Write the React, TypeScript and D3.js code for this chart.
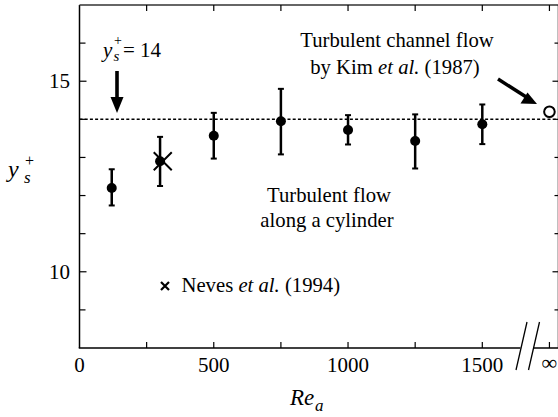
import React from "react";
import * as d3 from "d3";

// ---- data ----
const reValues = [120, 300, 500, 750, 1000, 1250, 1500];
const ysValues = [12.2, 12.9, 13.57, 13.95, 13.72, 13.43, 13.87];
const errLow = [11.74, 12.25, 12.97, 13.08, 13.34, 12.71, 13.35];
const errHigh = [12.69, 13.54, 14.17, 14.8, 14.11, 14.13, 14.39];
const nevesRe = [310];
const nevesYs = [12.9];
const kimYs = 14.2; // at Re = infinity
const refLine = 14;
const xTickValues = [0, 500, 1000, 1500];
const xMinorTicks = [250, 500, 750, 1000, 1250, 1500];
const yTickValues = [10, 15];
const yMinorTicks = [9, 10, 11, 12, 13, 14, 15, 16];
const INF_POS = 1750; // position of the "∞" tick after the axis break

const W = 558;
const H = 417;
const FF = "Liberation Serif";
const NOTE = 20.7;

export default function App() {
  const x = d3.scaleLinear().domain([0, 1500]).range([79.5, 482.3]);
  const y = d3.scaleLinear().domain([8, 17]).range([348, 5]);
  const left = x(0);
  const right = 558.5;
  const top = y(17);
  const bottom = y(8);
  const xInf = x(INF_POS);

  const tick = 6;
  const blk = "#000";

  return (
    <svg width={W} height={H} style={{ position: "absolute", left: 0, top: 0, background: "#fff" }}>
      <rect x={0} y={0} width={W} height={H} fill="#fff" />
      {/* reference dotted line */}
      <line x1={left} x2={right} y1={y(refLine)} y2={y(refLine)} stroke={blk} strokeWidth={1.5} strokeDasharray="3,2.2" />

      {/* axes frame */}
      <line x1={left} x2={left} y1={top} y2={bottom} stroke={blk} strokeWidth={1.5} />
      <line x1={left} x2={right} y1={top} y2={top} stroke="#333" strokeWidth={1.5} />
      <line x1={right} x2={right} y1={top} y2={bottom} stroke={blk} strokeWidth={1.5} />
      <line x1={left - 0.75} x2={520.5} y1={bottom} y2={bottom} stroke={blk} strokeWidth={1.5} />
      <line x1={534} x2={right} y1={bottom} y2={bottom} stroke={blk} strokeWidth={1.5} />
      {/* axis break slashes */}
      <line x1={516} y1={370} x2={527} y2={322} stroke={blk} strokeWidth={1.3} />
      <line x1={528.5} y1={370} x2={539.5} y2={322} stroke={blk} strokeWidth={1.3} />

      {/* x ticks (bottom & top) */}
      {[...xMinorTicks.map((v) => x(v)), xInf].map((px, i) => (
        <g key={"xt" + i}>
          <line x1={px} x2={px} y1={bottom} y2={bottom - tick} stroke={blk} strokeWidth={1.2} />
          <line x1={px} x2={px} y1={top} y2={top + tick} stroke={blk} strokeWidth={1.2} />
        </g>
      ))}
      {/* y ticks (left & right) */}
      {yMinorTicks.map((v) => (
        <g key={"yt" + v}>
          <line x1={left} x2={left + tick + (yTickValues.includes(v) ? 1 : 0)} y1={y(v)} y2={y(v)} stroke={blk} strokeWidth={1.2} />
          <line x1={right} x2={right - 4 - (yTickValues.includes(v) ? 2 : 0)} y1={y(v)} y2={y(v)} stroke={blk} strokeWidth={1.2} />
        </g>
      ))}

      <g fontFamily={FF} fill={blk}>
        {/* tick labels */}
        {xTickValues.map((v) => (
          <text key={"xl" + v} x={x(v)} y={372} textAnchor="middle" fontSize={21}>
            {v}
          </text>
        ))}
        <text x={xInf} y={370} textAnchor="middle" fontSize={22}>∞</text>
        {yTickValues.map((v) => (
          <text key={"yl" + v} x={70} y={y(v) + 7} textAnchor="end" fontSize={21}>
            {v}
          </text>
        ))}

        {/* axis titles */}
        <text x={290} y={405} fontStyle="italic" fontSize={23}>Re</text>
        <text x={315} y={411} fontStyle="italic" fontSize={17}>a</text>

        <text x={8} y={177} fontStyle="italic" fontSize={24}>y</text>
        <text x={24} y={183} fontStyle="italic" fontSize={17}>s</text>
        <text x={25} y={166} fontSize={16}>+</text>

        {/* y_s^+ = 14 annotation */}
        <text x={103} y={57} fontStyle="italic" fontSize={21}>y</text>
        <text x={113.5} y={61} fontStyle="italic" fontSize={15}>s</text>
        <text x={114} y={45} fontSize={14}>+</text>
        <text x={123} y={57} fontSize={21}>= 14</text>

        {/* Kim annotation */}
        <text x={397} y={47} textAnchor="middle" fontSize={NOTE}>Turbulent channel flow</text>
        <text x={395} y={74} textAnchor="middle" fontSize={NOTE}>
          by Kim <tspan fontStyle="italic">et al.</tspan> (1987)
        </text>

        {/* cylinder annotation */}
        <text x={329} y={202} textAnchor="middle" fontSize={NOTE}>Turbulent flow</text>
        <text x={327} y={227} textAnchor="middle" fontSize={NOTE}>along a cylinder</text>

        {/* legend for Neves */}
        <text x={181.5} y={292} fontSize={NOTE}>
          Neves <tspan fontStyle="italic">et al.</tspan> (1994)
        </text>
      </g>

      {/* error bars */}
      {reValues.map((r, i) => (
        <g key={"eb" + i}>
          <line x1={x(r)} x2={x(r)} y1={y(errLow[i])} y2={y(errHigh[i])} stroke={blk} strokeWidth={2.5} />
          <line x1={x(r) - 3} x2={x(r) + 3} y1={y(errLow[i])} y2={y(errLow[i])} stroke={blk} strokeWidth={2} />
          <line x1={x(r) - 3} x2={x(r) + 3} y1={y(errHigh[i])} y2={y(errHigh[i])} stroke={blk} strokeWidth={2} />
          <circle cx={x(r)} cy={y(ysValues[i])} r={5} fill={blk} />
        </g>
      ))}

      {/* Neves et al. cross */}
      {nevesRe.map((r, i) => (
        <path
          key={"nv" + i}
          d={`M${x(r) - 9},${y(nevesYs[i]) - 9}L${x(r) + 9},${y(nevesYs[i]) + 9}M${x(r) - 9},${y(nevesYs[i]) + 9}L${x(r) + 9},${y(nevesYs[i]) - 9}`}
          stroke={blk}
          strokeWidth={2}
          fill="none"
        />
      ))}
      <path d="M161,282L169,290M161,290L169,282" stroke={blk} strokeWidth={2.2} fill="none" />

      {/* Kim et al. open circle at infinity */}
      <circle cx={xInf} cy={y(kimYs)} r={5.3} fill="#fff" stroke={blk} strokeWidth={2} />

      {/* arrows */}
      <line x1={117} x2={117} y1={71} y2={100} stroke={blk} strokeWidth={3.6} />
      <path d="M110.5,97L123.5,97L117,113Z" fill={blk} />
      <line x1={498} y1={79} x2={527} y2={97.5} stroke={blk} strokeWidth={3.4} />
      <path d="M537,104L520.5,103.5L527.5,92.5Z" fill={blk} />
    </svg>
  );
}
